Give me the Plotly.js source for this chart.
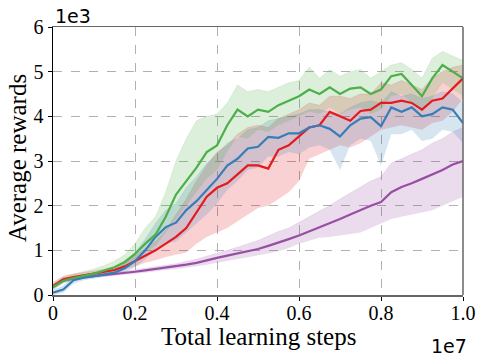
<!DOCTYPE html>
<html>
<head>
<meta charset="utf-8">
<script src="https://cdn.plot.ly/plotly-3.0.1.min.js"></script>
<style>
  body { margin: 0; background: #fff; }
  #plotArea { width: 484px; height: 361px; }
</style>
</head>
<body>
<div id="plotArea"></div>
<script>
// =============================================================================
// Data (x in units of 1e7 steps, y in units of 1e3 reward)
// =============================================================================

var steps = [0, 0.025, 0.05, 0.075, 0.1, 0.125, 0.15, 0.175, 0.2, 0.225,
    0.25, 0.275, 0.3, 0.325, 0.35, 0.375, 0.4, 0.425, 0.45, 0.475,
    0.5, 0.525, 0.55, 0.575, 0.6, 0.625, 0.65, 0.675, 0.7, 0.725,
    0.75, 0.775, 0.8, 0.825, 0.85, 0.875, 0.9, 0.925, 0.95, 0.975, 1.0];

var greenMean = [0.18, 0.32, 0.38, 0.43, 0.48, 0.55, 0.62, 0.74, 0.92, 1.15,
    1.35, 1.75, 2.25, 2.55, 2.85, 3.2, 3.35, 3.8, 4.15, 4.0,
    4.15, 4.1, 4.25, 4.35, 4.45, 4.6, 4.5, 4.65, 4.5, 4.62,
    4.65, 4.5, 4.6, 4.9, 4.95, 4.7, 4.45, 4.85, 5.15, 5.0, 4.85];
var greenUpper = [0.25, 0.4, 0.47, 0.52, 0.58, 0.66, 0.76, 0.9, 1.15, 1.5,
    1.75, 2.3, 3.0, 3.5, 3.9, 4.0, 4.05, 4.3, 4.7, 4.55,
    4.6, 4.55, 4.65, 4.75, 4.8, 5.1, 4.85, 5.05, 4.9, 5.0,
    5.05, 4.85, 5.0, 5.15, 5.2, 5.05, 4.85, 5.3, 5.45, 5.35, 5.25];
var greenLower = [0.1, 0.25, 0.32, 0.37, 0.42, 0.48, 0.54, 0.64, 0.8, 0.95,
    1.1, 1.4, 1.7, 2.0, 2.3, 2.6, 2.8, 3.2, 3.55, 3.5,
    3.7, 3.65, 3.8, 3.9, 4.0, 4.1, 4.05, 4.2, 4.05, 4.15,
    4.2, 4.05, 4.15, 4.45, 4.5, 4.3, 4.1, 4.4, 4.75, 4.6, 4.45];

var redMean = [0.2, 0.35, 0.4, 0.44, 0.48, 0.52, 0.56, 0.64, 0.76, 0.88,
    1.0, 1.15, 1.3, 1.5, 1.85, 2.2, 2.4, 2.5, 2.7, 2.9,
    2.9, 2.83, 3.25, 3.35, 3.55, 3.75, 3.8, 4.1, 4.0, 3.9,
    4.12, 4.15, 4.3, 4.3, 4.35, 4.3, 4.15, 4.35, 4.4, 4.62, 4.85];
var redUpper = [0.28, 0.42, 0.47, 0.5, 0.54, 0.58, 0.63, 0.72, 0.88, 1.02,
    1.2, 1.45, 1.8, 2.15, 2.55, 2.9, 3.2, 3.35, 3.6, 3.75,
    3.8, 3.75, 3.95, 4.05, 4.15, 4.3, 4.25, 4.45, 4.45, 4.4,
    4.5, 4.5, 4.75, 4.7, 4.8, 4.7, 4.6, 4.85, 5.0, 5.1, 5.15];
var redLower = [0.12, 0.28, 0.34, 0.38, 0.42, 0.46, 0.5, 0.56, 0.64, 0.72,
    0.78, 0.85, 0.9, 0.95, 1.15, 1.3, 1.4, 1.5, 1.65, 1.8,
    1.95, 2.0, 2.15, 2.3, 2.55, 3.05, 3.15, 3.25, 3.35, 3.3,
    3.4, 3.55, 3.7, 3.75, 3.8, 3.75, 3.7, 3.85, 3.9, 4.1, 4.4];

var blueMean = [0.05, 0.12, 0.33, 0.39, 0.42, 0.46, 0.5, 0.6, 0.76, 1.0,
    1.3, 1.52, 1.62, 1.9, 2.1, 2.35, 2.6, 2.9, 3.05, 3.28,
    3.32, 3.54, 3.52, 3.62, 3.62, 3.75, 3.8, 3.72, 3.55, 3.8,
    3.95, 3.98, 3.78, 4.2, 4.1, 4.2, 4.0, 4.05, 4.2, 4.15, 3.85];
var blueUpper = [0.1, 0.2, 0.4, 0.45, 0.48, 0.52, 0.57, 0.7, 0.95, 1.25,
    1.6, 1.9, 2.05, 2.4, 2.65, 2.95, 3.15, 3.4, 3.5, 3.7,
    3.75, 3.9, 3.95, 4.0, 4.05, 4.15, 4.15, 4.1, 4.05, 4.2,
    4.3, 4.35, 4.3, 4.55, 4.45, 4.5, 4.4, 4.45, 4.55, 4.5, 4.3];
var blueLower = [0.0, 0.05, 0.25, 0.33, 0.37, 0.4, 0.44, 0.5, 0.62, 0.8,
    1.0, 1.15, 1.2, 1.4, 1.6, 1.8, 2.05, 2.35, 2.55, 2.8,
    2.85, 3.1, 3.1, 3.2, 3.15, 3.3, 3.35, 3.25, 2.8, 3.35,
    3.5, 3.45, 2.9, 3.6, 3.6, 3.7, 3.45, 3.5, 3.7, 3.65, 3.4];

var purpleMean = [0.18, 0.32, 0.37, 0.4, 0.42, 0.45, 0.47, 0.49, 0.52, 0.55,
    0.58, 0.61, 0.64, 0.68, 0.72, 0.78, 0.83, 0.88, 0.93, 0.98,
    1.03, 1.1, 1.17, 1.25, 1.33, 1.42, 1.52, 1.6, 1.7, 1.8,
    1.9, 2.0, 2.08, 2.3, 2.42, 2.5, 2.6, 2.7, 2.8, 2.92, 3.0];
var purpleUpper = [0.22, 0.36, 0.41, 0.44, 0.46, 0.49, 0.51, 0.53, 0.56, 0.6,
    0.63, 0.67, 0.7, 0.75, 0.8, 0.87, 0.93, 1.0, 1.07, 1.14,
    1.22, 1.32, 1.42, 1.5, 1.62, 1.75, 1.88, 2.0, 2.15, 2.28,
    2.42, 2.55, 2.65, 2.95, 3.05, 3.15, 3.25, 3.4, 3.5, 3.65, 3.75];
var purpleLower = [0.14, 0.28, 0.33, 0.36, 0.38, 0.41, 0.43, 0.45, 0.48, 0.5,
    0.53, 0.55, 0.58, 0.61, 0.64, 0.68, 0.72, 0.76, 0.8, 0.84,
    0.88, 0.93, 0.98, 1.05, 1.15, 1.22, 1.28, 1.3, 1.33, 1.36,
    1.4, 1.5, 1.6, 1.7, 1.75, 1.8, 1.85, 1.9, 2.0, 2.1, 2.2];

var xTicks = [0, 0.2, 0.4, 0.6, 0.8, 1.0];
var xTickLabels = ["0", "0.2", "0.4", "0.6", "0.8", "1.0"];
var yTicks = [0, 1, 2, 3, 4, 5, 6];

// =============================================================================
// Traces: shaded band (lower + upper) then the mean line
// =============================================================================

var series = [
    {mean: purpleMean, upper: purpleUpper, lower: purpleLower, color: "152,78,163"},
    {mean: redMean, upper: redUpper, lower: redLower, color: "228,26,28"},
    {mean: blueMean, upper: blueUpper, lower: blueLower, color: "55,126,184"},
    {mean: greenMean, upper: greenUpper, lower: greenLower, color: "77,175,74"}
];

var data = [];

series.forEach(function(s){
    data.push({
        x: steps, y: s.lower, type: "scatter", mode: "lines",
        line: {width: 0, color: "rgba(" + s.color + ",0)"},
        hoverinfo: "skip", showlegend: false
    });
    data.push({
        x: steps, y: s.upper, type: "scatter", mode: "lines",
        line: {width: 0.5, color: "rgba(" + s.color + ",0.25)"},
        fill: "tonexty", fillcolor: "rgba(" + s.color + ",0.2)",
        hoverinfo: "skip", showlegend: false
    });
});

series.forEach(function(s){
    data.push({
        x: steps, y: s.mean, type: "scatter", mode: "lines",
        line: {width: 2.2, color: "rgb(" + s.color + ")"},
        showlegend: false
    });
});

var serif = "Liberation Serif";

var layout = {
    width: 484,
    height: 361,
    margin: {l: 53, r: 21, t: 27, b: 66},
    paper_bgcolor: "#fff",
    plot_bgcolor: "#fff",
    font: {family: serif, size: 20, color: "#000"},
    showlegend: false,
    xaxis: {
        range: [0, 1.0],
        tickvals: xTicks,
        ticktext: xTickLabels,
        ticks: "outside", ticklen: 4, tickcolor: "#000",
        tickfont: {family: serif, size: 20, color: "#000"},
        ticklabelstandoff: -5,
        showgrid: true, gridcolor: "#b0b0b0", griddash: "dash", gridwidth: 1,
        showline: true, linecolor: "#666", linewidth: 1.5, mirror: true,
        zeroline: false
    },
    yaxis: {
        range: [0, 6],
        tickvals: yTicks,
        ticks: "outside", ticklen: 4, tickcolor: "#000",
        tickfont: {family: serif, size: 20, color: "#000"},
        showgrid: true, gridcolor: "#b0b0b0", griddash: "dash", gridwidth: 1,
        showline: true, linecolor: "#000", linewidth: 1.5,
        zeroline: false
    },
    shapes: [
        {type: "line", xref: "paper", yref: "paper", x0: 1, x1: 1, y0: 0, y1: 1,
         line: {color: "#666", width: 1.5}}
    ],
    annotations: [
        {text: "Total learning steps", xref: "paper", yref: "paper", x: 0.5, y: -0.155,
         xanchor: "center", yanchor: "middle", showarrow: false,
         font: {family: serif, size: 25, color: "#000"}},
        {text: "Average rewards", xref: "paper", yref: "paper", x: -0.086, y: 0.51,
         xanchor: "center", yanchor: "middle", textangle: -90, showarrow: false,
         font: {family: serif, size: 25, color: "#000"}},
        {text: "1e3", xref: "paper", yref: "paper", x: 0, y: 1, xanchor: "left", yanchor: "bottom",
         showarrow: false, font: {family: "DejaVu Sans", size: 19, color: "#000"}, yshift: -2},
        {text: "1e7", xref: "paper", yref: "paper", x: 1, y: 0, xanchor: "right", yanchor: "top",
         showarrow: false, font: {family: "DejaVu Sans", size: 19, color: "#000"}, yshift: -38, xshift: 6}
    ]
};

Plotly.newPlot("plotArea", data, layout, {displayModeBar: false, staticPlot: true});
</script>
</body>
</html>
